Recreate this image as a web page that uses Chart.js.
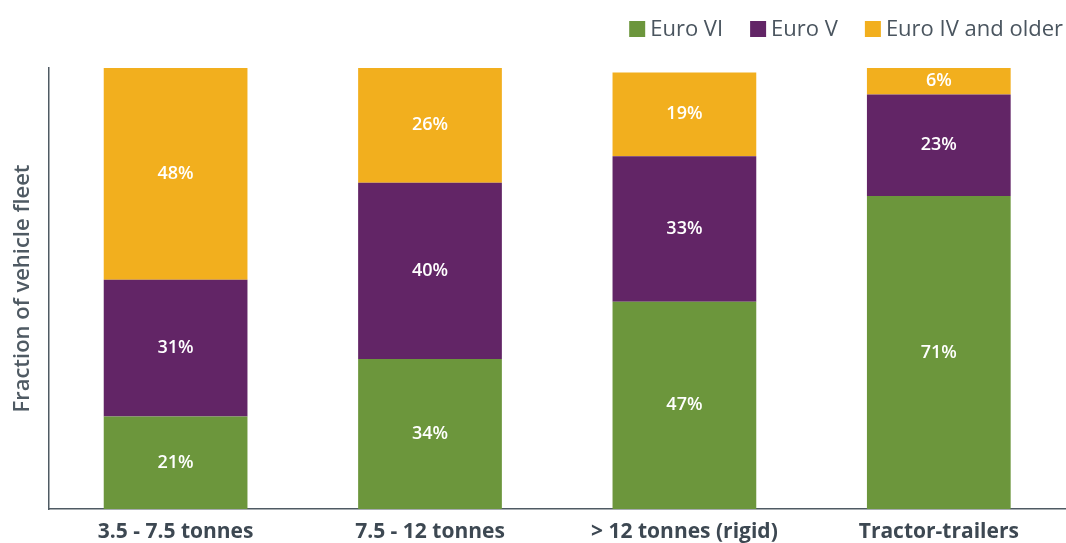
<!DOCTYPE html>
<html>
<head>
<meta charset="utf-8">
<script src="https://cdn.jsdelivr.net/npm/chart.js@4.4.1/dist/chart.umd.min.js"></script>
<style>
  html, body { margin: 0; padding: 0; background: #ffffff; }
  #wrap { width: 1066px; height: 543px; position: relative; }
</style>
</head>
<body>
<div id="wrap"><canvas id="fleet"></canvas></div>
<script>
// Vehicle classes on the x axis
const categories = ['3.5 - 7.5 tonnes', '7.5 - 12 tonnes', '> 12 tonnes (rigid)', 'Tractor-trailers'];

// Share of the fleet (%) by emission standard
const euroVI = [21, 34, 47, 71];
const euroV = [31, 40, 33, 23];
const euroIVOlder = [48, 26, 19, 6];

const seriesNames = ['Euro VI', 'Euro V', 'Euro IV and older'];
const seriesColors = ['#6c963c', '#622566', '#f2af1e'];

const FONT = "'Open Sans', 'Noto Sans', sans-serif";
const AXIS_COLOR = '#4f5a63';

// Writes each segment's percentage in the middle of its bar piece
const segmentLabels = {
  id: 'segmentLabels',
  afterDatasetsDraw(chart) {
    const ctx = chart.ctx;
    ctx.save();
    ctx.fillStyle = '#ffffff';
    ctx.font = '600 18px ' + FONT;
    ctx.textAlign = 'center';
    ctx.textBaseline = 'middle';
    chart.data.datasets.forEach((ds, di) => {
      const meta = chart.getDatasetMeta(di);
      meta.data.forEach((bar, i) => {
        const p = bar.getProps(['x', 'y', 'base'], true);
        ctx.fillText(ds.data[i] + '%', p.x, (p.y + p.base) / 2);
      });
    });
    ctx.restore();
  }
};

// Compact legend row in the top-right corner: square swatch, short gap, name
const cornerLegend = {
  id: 'cornerLegend',
  afterDraw(chart) {
    const ctx = chart.ctx;
    const box = 16, gapText = 5, gapItem = 27;
    const midY = 29;
    ctx.save();
    ctx.font = '22px ' + FONT;
    ctx.textBaseline = 'middle';
    ctx.textAlign = 'left';
    let x = chart.width - 3;
    for (let i = chart.data.datasets.length - 1; i >= 0; i--) {
      const ds = chart.data.datasets[i];
      const w = ctx.measureText(ds.label).width;
      x -= w;
      ctx.fillStyle = '#4a555f';
      ctx.fillText(ds.label, x, midY + 1);
      x -= gapText + box;
      ctx.fillStyle = ds.backgroundColor;
      ctx.fillRect(x, midY - box / 2, box, box);
      x -= gapItem;
    }
    ctx.restore();
  }
};

new Chart(document.getElementById('fleet'), {
  type: 'bar',
  data: {
    labels: categories,
    datasets: [euroVI, euroV, euroIVOlder].map((vals, k) => ({
      label: seriesNames[k],
      data: vals,
      backgroundColor: seriesColors[k],
      borderWidth: 0,
      categoryPercentage: 1,
      barPercentage: 0.565
    }))
  },
  options: {
    responsive: true,
    maintainAspectRatio: false,
    animation: false,
    layout: { padding: { left: 10, right: 0, top: 68, bottom: -13 } },
    plugins: {
      tooltip: { enabled: false },
      legend: { display: false }
    },
    scales: {
      x: {
        stacked: true,
        grid: { display: false, drawTicks: false },
        border: { display: true, color: AXIS_COLOR, width: 1.5 },
        ticks: {
          color: '#3d4852',
          padding: 13,
          font: { family: FONT, size: 21, weight: 'bold', lineHeight: 1 }
        }
      },
      y: {
        stacked: true,
        min: 0,
        max: 100,
        grid: { display: false, drawTicks: false },
        border: { display: true, color: AXIS_COLOR, width: 1.5 },
        ticks: { display: false },
        title: {
          display: true,
          text: 'Fraction of vehicle fleet',
          color: '#4f5a63',
          padding: { top: 0, bottom: 12 },
          font: { family: FONT, size: 22, weight: '600' }
        }
      }
    }
  },
  plugins: [segmentLabels, cornerLegend]
});
</script>
</body>
</html>
